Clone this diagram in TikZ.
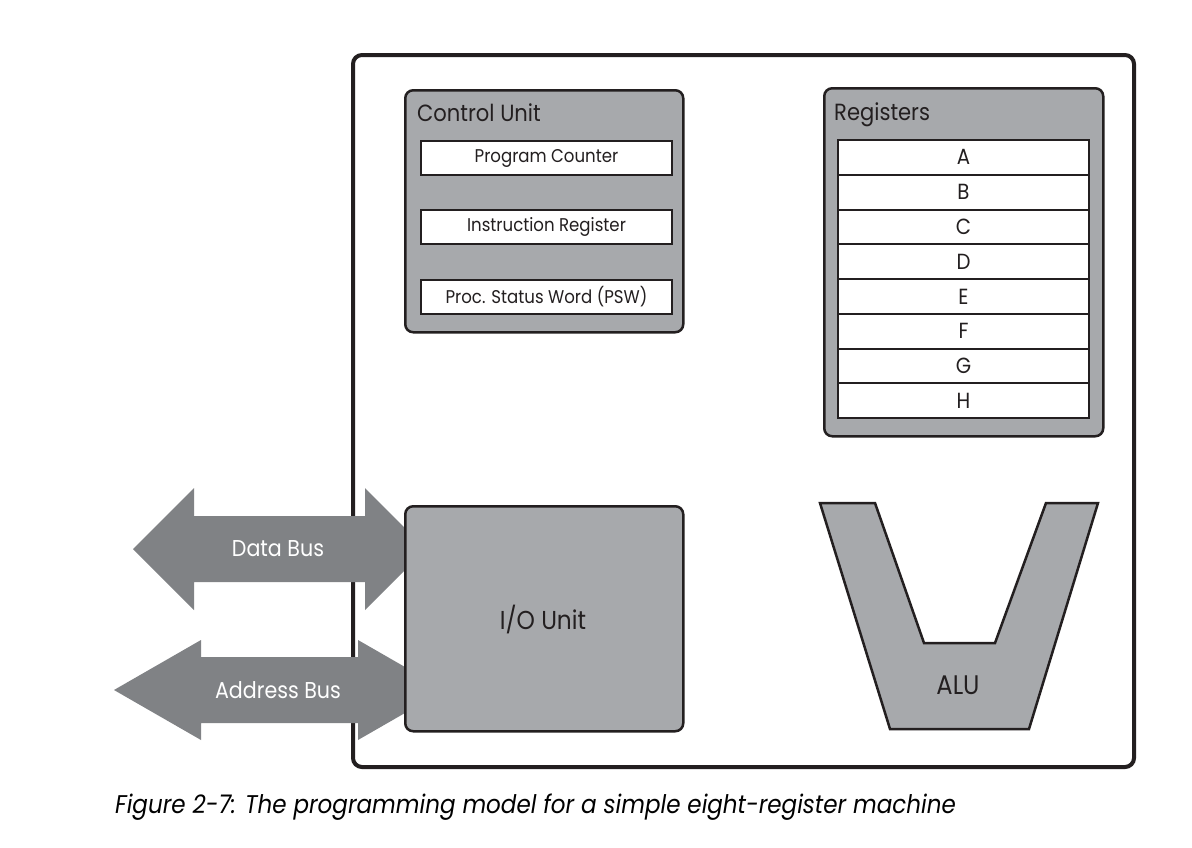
\documentclass[tikz,border=0pt]{standalone}
\usepackage{fontspec}
\setmainfont{Poppins}[FakeStretch=0.9]
\definecolor{boxgray}{HTML}{A7A9AC}
\definecolor{busgray}{HTML}{808285}
\definecolor{linec}{HTML}{231F20}
\begin{document}
\begin{tikzpicture}[x=1bp,y=-1bp,
  unit/.style={draw=linec, line width=2.5bp, fill=boxgray, rounded corners=8bp, inner sep=0pt, anchor=north west},
  regbox/.style={draw=linec, line width=2bp, fill=white, inner sep=0pt, minimum width=251bp, text=linec},
  cuitem/.style={regbox, minimum height=34bp, font=\fontsize{18.5}{18.5}\selectfont},
  regrow/.style={regbox, minimum height=34.75bp, font=\fontsize{22}{22}\selectfont},
  title/.style={anchor=base west, inner sep=0pt, text=linec, font=\fontsize{23.5}{23.5}\selectfont},
  bus/.style={fill=busgray},
  bustext/.style={text=white, inner sep=0pt, font=\fontsize{23}{23}\selectfont},
  bigtext/.style={text=linec, inner sep=0pt, font=\fontsize{26}{26}\selectfont}]
\useasboundingbox (0,0) rectangle (1192,848);
\fill[white] (0,0) rectangle (1192,848);
% outer machine box
\node[draw=linec, line width=4bp, rounded corners=9bp, minimum width=781bp, minimum height=712bp, inner sep=0pt, anchor=north west] (cpu) at (351,53) {};
% control unit
\node[unit, minimum width=278bp, minimum height=242bp] (cu) at (404,89) {};
\node[title] (cutitle) at (417,121) {Control Unit};
\node[cuitem] (pc) at (546.5,158) {Program Counter};
\node[cuitem] (ir) at (546.5,227) {Instruction Register};
\node[cuitem] (psw) at (546.5,296.5) {Proc. Status Word (PSW)};
% registers
\node[unit, minimum width=279bp, minimum height=348bp] (regs) at (823,87) {};
\node[title] (regtitle) at (834,120) {Registers};
\foreach \r [count=\i from 0] in {A,B,C,D,E,F,G,H}
  \node[regrow] (reg\r) at (963.5,{140+34.75*(\i+0.5)}) {\r};
% buses
\fill[bus] (133,549) -- (194,488) -- (194,516) -- (365,516) -- (365,488) -- (426,549)
  -- (365,610) -- (365,582) -- (194,582) -- (194,610) -- cycle;
\node[bustext] (databus) at (278,549) {Data Bus};
\fill[bus] (114,690) -- (201,640) -- (201,657) -- (358,657) -- (358,640) -- (445,690)
  -- (358,740) -- (358,723) -- (201,723) -- (201,740) -- cycle;
\node[bustext] (addrbus) at (278,690) {Address Bus};
% I/O unit
\node[unit, minimum width=278bp, minimum height=225bp] (io) at (404,505) {};
\node[bigtext] (iotext) at (543,619) {I/O Unit};
% ALU
\filldraw[fill=boxgray, draw=linec, line width=2.5bp, line join=miter]
  (820,503) -- (875,503) -- (924,643) -- (995,643) -- (1046,503) -- (1098,503)
  -- (1029,729) -- (890,729) -- cycle;
\node[bigtext, font=\fontsize{27}{27}\selectfont] (alu) at (958,685) {ALU};
% caption
\node[anchor=base west, inner sep=0pt, text=black, font=\fontsize{25.7}{25.7}\selectfont\itshape] (caption) at (115,813)
  {Figure 2-7: The programming model for a simple eight-register machine};
\end{tikzpicture}
\end{document}
